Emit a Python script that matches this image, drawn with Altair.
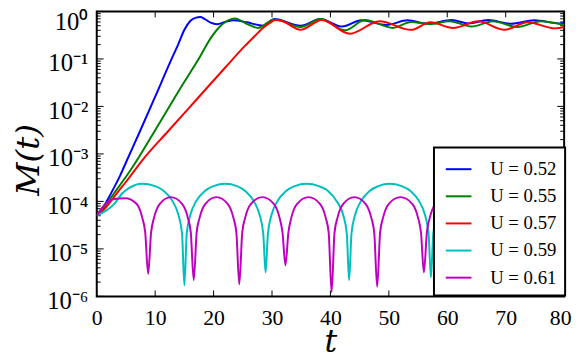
import altair as alt
import pandas as pd

labels = ["U = 0.52", "U = 0.55", "U = 0.57", "U = 0.59", "U = 0.61"]
colors = ["#0000ff", "#008000", "#ff0000", "#00bfbf", "#bf00bf"]

x_ticks = [0, 10, 20, 30, 40, 50, 60, 70, 80]
y_major = [1e-6, 1e-5, 1e-4, 1e-3, 1e-2, 1e-1, 1.0]
y_minor = [k * 10.0 ** e for e in range(-6, 0) for k in range(2, 10)]

# U = 0.52
t_052 = [0, 1, 2, 3, 4, 5, 7.4, 10, 12.7, 14, 15, 16, 17, 17.7, 18.5, 19.5, 20.6,
         22, 23.4, 25.7, 28.5, 30.4, 34.9, 38.3, 42, 45.3, 49.6, 53.2, 56.6,
         60.8, 63.6, 67, 70.9, 74.9, 79.3, 80]
m_052 = [5.0e-5, 7.1e-5, 1.17e-4, 2.0e-4, 3.5e-4, 6.6e-4, 3.0e-3, 1.6e-2, 9.3e-2,
         0.21, 0.41, 0.63, 0.74, 0.76, 0.69, 0.58, 0.54,
         0.60, 0.65, 0.59, 0.50, 0.69, 0.50, 0.69, 0.48, 0.65, 0.52, 0.65, 0.55,
         0.66, 0.56, 0.66, 0.55, 0.65, 0.56, 0.57]

# U = 0.55
t_055 = [0, 1, 2, 3, 4.3, 6, 9.9, 15, 17.2, 19.8, 21, 22, 23, 23.7, 25.5, 27.6,
         30.4, 34.9, 38.3, 42.5, 45.9, 50.7, 53.8, 57, 60.4, 64.2, 67.8, 72, 76, 80]
m_055 = [5.0e-5, 6.6e-5, 1.0e-4, 1.5e-4, 2.5e-4, 5.0e-4, 3.0e-3, 3.3e-2, 8.9e-2, 0.31,
         0.47, 0.60, 0.69, 0.71, 0.56, 0.45,
         0.68, 0.47, 0.69, 0.40, 0.66, 0.45, 0.60, 0.54, 0.62, 0.48, 0.62, 0.47, 0.62, 0.52]

# U = 0.57
t_057 = [0, 1, 2, 3, 5.4, 8, 12.2, 17.2, 22, 25.4, 27, 28.2, 29.5, 30.6, 31.8,
         34.9, 38.5, 43.3, 48.4, 53.8, 57.1, 61, 65.3, 69.8, 73.7, 78.5, 80]
m_057 = [5.0e-5, 6.3e-5, 8.7e-5, 1.26e-4, 3.0e-4, 7.9e-4, 3.0e-3, 1.45e-2, 6.6e-2,
         0.19, 0.30, 0.42, 0.56, 0.66, 0.62,
         0.41, 0.66, 0.34, 0.62, 0.41, 0.59, 0.45, 0.62, 0.41, 0.59, 0.44, 0.47]

# U = 0.59
t_059 = [0, 1.5, 3, 4.3, 5.5, 7.7,
         10, 11.5, 13, 14, 14.6, 15.0, 15.4, 16, 17, 18.5, 20, 22,
         24, 25.4, 26.9, 27.9, 28.5, 28.9, 29.3, 29.9, 30.9, 32.4, 33.9, 35.9,
         38, 39.6, 41.1, 42.2, 42.8, 43.2, 43.6, 44.2, 45.2, 46.7, 48.2, 50.1,
         52.2, 53.7, 55.2, 56.2, 56.8, 57.2, 57.6, 58.2, 59.2, 60.7, 62.2, 64.2,
         66.3, 67.8, 69.3, 70.3, 70.9, 71.3, 71.7, 72.3, 73.3, 74.8, 76.3, 78.3,
         80]
m_059 = [5.0e-5, 6.3e-5, 8.9e-5, 1.45e-4, 1.9e-4, 2.35e-4,
         2.1e-4, 1.66e-4, 1.0e-4, 5.1e-5, 2.1e-5, 1.7e-6, 2.1e-5, 5.1e-5, 1.0e-4, 1.66e-4, 2.1e-4, 2.35e-4,
         2.1e-4, 1.66e-4, 1.0e-4, 5.1e-5, 2.1e-5, 3.2e-6, 2.1e-5, 5.1e-5, 1.0e-4, 1.66e-4, 2.1e-4, 2.35e-4,
         2.1e-4, 1.66e-4, 1.0e-4, 5.1e-5, 2.1e-5, 2.2e-6, 2.1e-5, 5.1e-5, 1.0e-4, 1.66e-4, 2.1e-4, 2.35e-4,
         2.1e-4, 1.66e-4, 1.0e-4, 5.1e-5, 2.1e-5, 2.5e-6, 2.1e-5, 5.1e-5, 1.0e-4, 1.66e-4, 2.1e-4, 2.35e-4,
         2.1e-4, 1.66e-4, 1.0e-4, 5.1e-5, 2.1e-5, 2.5e-6, 2.1e-5, 5.1e-5, 1.0e-4, 1.66e-4, 2.1e-4, 2.35e-4,
         2.2e-4]

# U = 0.61
t_061 = [0, 1, 2, 3, 4.9,
         6.8, 7.8, 8.3, 8.8, 9.3, 9.8, 10.8, 12.7,
         14.6, 15.6, 16.1, 16.6, 17.1, 17.6, 18.6, 20.5,
         22.4, 23.4, 23.9, 24.4, 24.9, 25.4, 26.4, 28.35,
         30.3, 31.3, 31.8, 32.3, 32.8, 33.3, 34.3, 36.25,
         38.2, 39.2, 39.7, 40.2, 40.7, 41.2, 42.2, 44.1,
         46.0, 47.0, 47.5, 48.0, 48.5, 49.0, 50.0, 52.0,
         54.0, 55.0, 55.5, 56.0, 56.5, 57.0, 58.0, 59.9,
         61.8, 62.8, 63.3, 63.8, 64.3, 64.8, 65.8, 67.75,
         69.7, 70.7, 71.2, 71.7, 72.2, 72.7, 73.7, 75.65,
         77.6, 78.6, 79.1, 79.6, 80]
m_061 = [5.0e-5, 7.6e-5, 1.0e-4, 1.12e-4, 1.17e-4,
         8.9e-5, 4.5e-5, 2.2e-5, 3.0e-6, 2.2e-5, 4.5e-5, 8.9e-5, 1.23e-4,
         8.9e-5, 4.5e-5, 2.2e-5, 2.2e-6, 2.2e-5, 4.5e-5, 8.9e-5, 1.23e-4,
         8.9e-5, 4.5e-5, 2.2e-5, 1.8e-6, 2.2e-5, 4.5e-5, 8.9e-5, 1.23e-4,
         8.9e-5, 4.5e-5, 2.2e-5, 4.5e-6, 2.2e-5, 4.5e-5, 8.9e-5, 1.23e-4,
         8.9e-5, 4.5e-5, 2.2e-5, 1.23e-6, 2.2e-5, 4.5e-5, 8.9e-5, 1.23e-4,
         8.9e-5, 4.5e-5, 2.2e-5, 1.6e-6, 2.2e-5, 4.5e-5, 8.9e-5, 1.23e-4,
         8.9e-5, 4.5e-5, 2.2e-5, 3.2e-6, 2.2e-5, 4.5e-5, 8.9e-5, 1.23e-4,
         8.9e-5, 4.5e-5, 2.2e-5, 2.5e-6, 2.2e-5, 4.5e-5, 8.9e-5, 1.23e-4,
         8.9e-5, 4.5e-5, 2.2e-5, 2.5e-6, 2.2e-5, 4.5e-5, 8.9e-5, 1.23e-4,
         8.9e-5, 4.5e-5, 2.2e-5, 3.2e-6, 1.6e-5]

series = [(labels[0], t_052, m_052), (labels[1], t_055, m_055), (labels[2], t_057, m_057),
          (labels[3], t_059, m_059), (labels[4], t_061, m_061)]
rows = []
for i, (lab, ts, ms) in enumerate(series):
    for t, m in zip(ts, ms):
        rows.append({"t": t, "M": m, "U": lab, "k": i})
df = pd.DataFrame(rows)

W, H = 474, 289
SERIF = "Liberation Serif"
TITLE_FONT = "DejaVu Serif"

x_scale = alt.Scale(domain=[0, 80], nice=False, zero=False)
y_scale = alt.Scale(type="log", domain=[1e-6, 1], nice=False)

lines = alt.Chart(df).mark_line(strokeWidth=2, interpolate="monotone", clip=True).encode(
    x=alt.X("t:Q", scale=x_scale,
            axis=alt.Axis(values=x_ticks, title="t", format="d", ticks=False, domain=False,
                          grid=False, labelPadding=12, labelFontSize=22, labelFont=SERIF,
                          labelOffset={"condition": {"test": "datum.value == 80", "value": -4}, "value": 0},
                          labelFlush=False, titleFont=TITLE_FONT, titleFontStyle="italic",
                          titleFontSize=32, titleFontWeight="normal",
                          titleX=237, titleY=56, titleBaseline="alphabetic", titleAlign="center",
                          titleColor="black", labelColor="black")),
    y=alt.Y("M:Q", scale=y_scale,
            axis=alt.Axis(values=y_major, title="M(t)", ticks=False, domain=False, grid=False,
                          labelExpr="'10' + ['⁰','⁻¹','⁻²','⁻³','⁻⁴','⁻⁵','⁻⁶'][round(-log(datum.value)/LN10)]",
                          labelPadding=9, labelFontSize=25, labelFont=SERIF,
                          labelOffset={"condition": {"test": "datum.value == 1", "value": 10}, "value": 4},
                          labelFlush=False, titleFont=TITLE_FONT, titleFontStyle="italic",
                          titleFontSize=33, titleFontWeight="normal",
                          titleX=-69, titleY=150, titleBaseline="middle", titleAlign="center",
                          titleAngle=270,
                          titleColor="black", labelColor="black")),
    color=alt.Color("U:N", scale=alt.Scale(domain=labels, range=colors),
                    legend=alt.Legend(orient="none", legendX=342, legendY=138, title=None,
                                      strokeColor="black", fillColor="white", padding=8,
                                      symbolType="stroke", symbolStrokeWidth=2, symbolSize=676,
                                      symbolOffset=3,
                                      labelFont=SERIF, labelFontSize=19, labelOffset=18,
                                      rowPadding=3.5, labelColor="black")),
    order=alt.Order("k:Q"),
)

xt_df = pd.DataFrame({"t": x_ticks})
ymaj_df = pd.DataFrame({"M": y_major})
ymin_df = pd.DataFrame({"M": y_minor})

tick_x_bottom = alt.Chart(xt_df).mark_rule(color="black", strokeWidth=1).encode(
    x=alt.X("t:Q", scale=x_scale, title="t"), y=alt.value(H), y2=alt.value(H - 6))
tick_x_top = alt.Chart(xt_df).mark_rule(color="black", strokeWidth=1).encode(
    x=alt.X("t:Q", scale=x_scale, title="t"), y=alt.value(0), y2=alt.value(6))
tick_y_left = alt.Chart(ymaj_df).mark_rule(color="black", strokeWidth=1).encode(
    y=alt.Y("M:Q", scale=y_scale, title="M(t)"), x=alt.value(0), x2=alt.value(7))
tick_y_right = alt.Chart(ymaj_df).mark_rule(color="black", strokeWidth=1).encode(
    y=alt.Y("M:Q", scale=y_scale, title="M(t)"), x=alt.value(W), x2=alt.value(W - 7))
mtick_y_left = alt.Chart(ymin_df).mark_rule(color="black", strokeWidth=1).encode(
    y=alt.Y("M:Q", scale=y_scale, title="M(t)"), x=alt.value(0), x2=alt.value(4))
mtick_y_right = alt.Chart(ymin_df).mark_rule(color="black", strokeWidth=1).encode(
    y=alt.Y("M:Q", scale=y_scale, title="M(t)"), x=alt.value(W), x2=alt.value(W - 4))

chart = alt.layer(
    tick_x_bottom, tick_x_top, tick_y_left, tick_y_right, mtick_y_left, mtick_y_right, lines
).properties(
    width=W, height=H,
    autosize=alt.AutoSizeParams(type="none"),
    padding={"left": 90, "top": 1, "right": 9, "bottom": 60},
    background="white",
).configure_view(stroke="black", strokeWidth=2).configure_legend(strokeWidth=2, cornerRadius=0)

chart.save("out.html", embed_options={"renderer": "svg", "actions": False})
